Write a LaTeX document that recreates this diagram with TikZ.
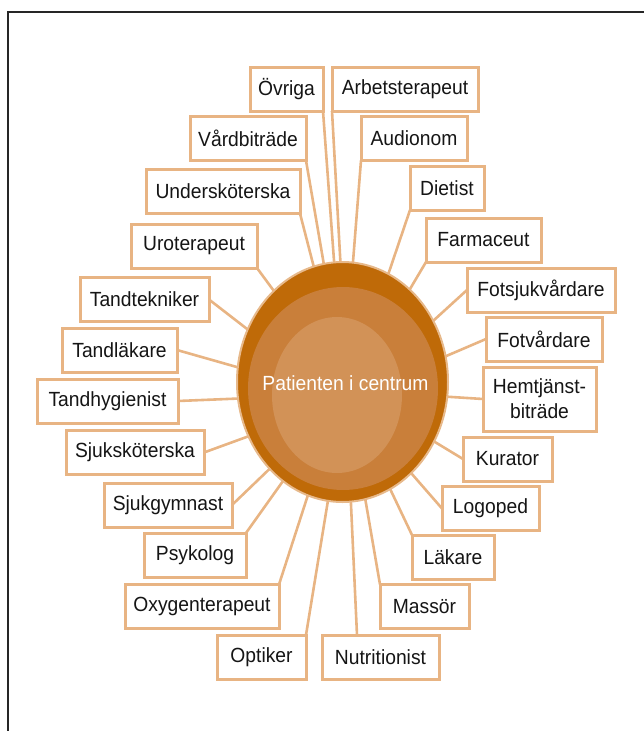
\documentclass[tikz,border=0pt]{standalone}
\usepackage{fontspec}
\setmainfont{Liberation Sans}[FakeStretch=0.94]
\usepackage{xcolor}
\usetikzlibrary{positioning,shapes.geometric,calc}

\definecolor{ringdark}{HTML}{BF6A08}
\definecolor{ringmid}{HTML}{C97F3A}
\definecolor{ringlight}{HTML}{D29257}
\definecolor{ringedge}{HTML}{E7B98B}
\definecolor{boxedge}{HTML}{E8B483}
\definecolor{textdark}{HTML}{151515}

\begin{document}
\begin{tikzpicture}[
    x=1pt, y=-1pt,
    every node/.style={font=\fontsize{20.5}{25}\selectfont},
    rolebox/.style={rectangle, draw=boxedge, line width=3pt, fill=white,
        text=textdark, minimum height=44pt, inner sep=0pt, outer sep=0pt, align=center},
    link/.style={draw=boxedge, line width=2.6pt}
]
\useasboundingbox (0,0) rectangle (644,731);

% frame
\draw[line width=2pt, black!85] (7.5,731) -- (7.5,11.5) -- (644,11.5);

% centre
\node[ellipse, fill=ringdark, draw=ringedge, line width=2pt, outer sep=0pt,
      minimum width=211pt, minimum height=240pt] (pat) at (342.5,382) {};
\fill[ringmid] (343,388.5) ellipse [x radius=95, y radius=101.5];
\fill[ringlight] (337,395) ellipse [x radius=65, y radius=78];
\node[text=white] (ptext) at (345.5,383) {Patienten i centrum};

% roles
\node[rolebox, minimum width=73pt]  (ovriga)  at (286.5,89)   {Övriga};
\node[rolebox, minimum width=146pt] (arbets)  at (405,89)     {Arbetsterapeut};
\node[rolebox, minimum width=116pt] (vard)    at (248,138.5)  {Vårdbiträde};
\node[rolebox, minimum width=106pt] (audio)   at (414,138.5)  {Audionom};
\node[rolebox, minimum width=154pt] (under)   at (223,191.5)  {Undersköterska};
\node[rolebox, minimum width=74pt]  (diet)    at (447,188)    {Dietist};
\node[rolebox, minimum width=115pt] (farm)    at (483.5,240)  {Farmaceut};
\node[rolebox, minimum width=148pt] (fotsjuk) at (541,290)    {Fotsjukvårdare};
\node[rolebox, minimum width=116pt] (fotv)    at (544,339)    {Fotvårdare};
\node[rolebox, minimum width=113pt, minimum height=64pt] (hemtj) at (539.5,399) {Hemtjänst-\\biträde};
\node[rolebox, minimum width=89pt]  (kurator) at (507.5,459)  {Kurator};
\node[rolebox, minimum width=97pt]  (logoped) at (490.5,508.5) {Logoped};
\node[rolebox, minimum width=82pt]  (lakare)  at (453,557)    {Läkare};
\node[rolebox, minimum width=89pt]  (massor)  at (424.5,606.5) {Massör};
\node[rolebox, minimum width=117pt] (nutr)    at (380.5,657)  {Nutritionist};
\node[rolebox, minimum width=89pt]  (optiker) at (261.5,657)  {Optiker};
\node[rolebox, minimum width=154pt] (oxy)     at (202,606.5)  {Oxygenterapeut};
\node[rolebox, minimum width=102pt] (psyk)    at (195,555)    {Psykolog};
\node[rolebox, minimum width=128pt] (sjukg)   at (168,505)    {Sjukgymnast};
\node[rolebox, minimum width=138pt] (sjuks)   at (135,452.5)  {Sjuksköterska};
\node[rolebox, minimum width=141pt] (tandh)   at (107.5,401)  {Tandhygienist};
\node[rolebox, minimum width=115pt] (tandl)   at (119.5,350)  {Tandläkare};
\node[rolebox, minimum width=129pt] (tandt)   at (144.5,299.5) {Tandtekniker};
\node[rolebox, minimum width=126pt] (uro)     at (194,246)    {Uroterapeut};

% connectors
\draw[link] (ovriga.south east) -- (pat.94);
\draw[link] (arbets.south west) -- (pat.91);
\draw[link] (vard.south east) -- (pat.99);
\draw[link] (audio.south west) -- (pat.85);
\draw[link] (under.south east) -- (pat.104);
\draw[link] (diet.south west) -- (pat.67);
\draw[link] (farm.south west) -- (pat.54);
\draw[link] (fotsjuk.west) -- (pat.34);
\draw[link] (fotv.west) -- (pat.14);
\draw[link] (hemtj.west) -- (pat.-8);
\draw[link] (kurator.west) -- (pat.-33);
\draw[link] (logoped.west) -- (pat.-53);
\draw[link] (lakare.north west) -- (pat.-66);
\draw[link] (massor.north west) -- (pat.-79);
\draw[link] ([xshift=35pt]nutr.north west) -- (pat.-86);
\draw[link] (optiker.north east) -- (pat.263);
\draw[link] (oxy.north east) -- (pat.253);
\draw[link] (psyk.north east) -- (pat.239);
\draw[link] (sjukg.east) -- (pat.230);
\draw[link] (sjuks.east) -- (pat.210);
\draw[link] (tandh.east) -- (pat.189);
\draw[link] (tandl.east) -- (pat.172);
\draw[link] (tandt.east) -- (pat.151);
\draw[link] (uro.south east) -- (pat.127);

\end{tikzpicture}
\end{document}
